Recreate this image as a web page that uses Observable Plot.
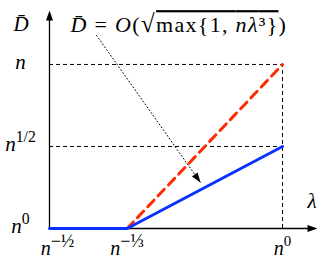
<!DOCTYPE html>
<html><head><meta charset="utf-8">
<script src="https://cdn.jsdelivr.net/npm/d3@7"></script>
<script src="https://cdn.jsdelivr.net/npm/@observablehq/plot@0.6"></script>
<style>
body{margin:0;background:#fff}
svg{font-family:"Liberation Serif",serif}
</style>
</head><body><div id="chart"></div>
<script>
// exponents of n (log_n scale)
const xTicks = [-1/2, -1/3, 0];
const xTickLabels = ["n^\u2212\u00BD", "n^\u2212\u2153", "n^0"];
const yTicks = [0, 1/2, 1];
const yTickLabels = ["n^0", "n^1/2", "n"];
// blue: sqrt(max{1, n λ^3})
const blueX = [-1/2, -1/3, 0];
const blueY = [0, 0, 1/2];
// red dashed: max{1, n λ^3}
const redX = [-1/3, 0];
const redY = [0, 1];
// annotation arrow (start, tip)
const annotX = [-0.399, -0.176];
const annotY = [1.177, 0.28];

const W = 332, H = 260;
const mL = 49, mR = 15, mT = 10, mB = 32;
const xDom = [-0.5, 0.075], yDom = [0, 1.329];
const xs = d3.scaleLinear(xDom, [mL, W - mR]);
const ys = d3.scaleLinear(yDom, [H - mB, mT]);

const tri = {draw(ctx) { ctx.moveTo(0, 0); ctx.lineTo(-3.5, 10); ctx.lineTo(3.5, 10); ctx.closePath(); }};
const ang = Math.atan2(ys(annotY[1]) - ys(annotY[0]), xs(annotX[1]) - xs(annotX[0])) * 180 / Math.PI + 90;

const pts = (X, Y) => X.map((x, i) => ({x, y: Y[i]}));
const xLab = xTicks.map((x, i) => ({x, t: xTickLabels[i]}));

const chart = Plot.plot({
  width: W, height: H,
  marginLeft: mL, marginRight: mR, marginTop: mT, marginBottom: mB,
  x: {domain: xDom, axis: null},
  y: {domain: yDom, axis: null},
  marks: [
    // dashed guides
    Plot.ruleY([yTicks[1], yTicks[2]], {x1: xTicks[0], x2: xTicks[2], stroke: "black", strokeWidth: 1, strokeDasharray: "4,3"}),
    Plot.ruleX([xTicks[2]], {y1: 0, y2: yTicks[2], stroke: "black", strokeWidth: 1, strokeDasharray: "4,3"}),
    // axes
    Plot.ruleY([0], {x1: xDom[0], x2: xDom[1] - 0.01, stroke: "black", strokeWidth: 1.3}),
    Plot.ruleX([xDom[0]], {y1: 0, y2: yDom[1] - 0.03, stroke: "black", strokeWidth: 1.3}),
    Plot.dot([{x: xDom[1], y: 0}], {x: "x", y: "y", symbol: tri, fill: "black", stroke: "none", rotate: 90}),
    Plot.dot([{x: xDom[0], y: yDom[1]}], {x: "x", y: "y", symbol: tri, fill: "black", stroke: "none", rotate: 0}),
    // series
    Plot.line(pts(redX, redY), {x: "x", y: "y", stroke: "#ff2a00", strokeWidth: 3, strokeDasharray: "9,6"}),
    Plot.line(pts(blueX, blueY), {x: "x", y: "y", stroke: "#0a32ff", strokeWidth: 3}),
    // annotation arrow
    Plot.line(pts(annotX, annotY), {x: "x", y: "y", stroke: "black", strokeWidth: 1, strokeDasharray: "1,2.5"}),
    Plot.dot([{x: annotX[1], y: annotY[1]}], {x: "x", y: "y", symbol: tri, fill: "black", stroke: "none", rotate: ang}),
    // tick labels
    Plot.text(xLab.slice(0, 1), {x: "x", y: 0, text: "t", fontSize: 20, dx: 8, dy: 20, textAnchor: "middle", fill: "black"}),
    Plot.text(xLab.slice(1), {x: "x", y: 0, text: "t", fontSize: 20, dy: 20, textAnchor: "middle", fill: "black"}),
    Plot.text(yTicks.map((y, i) => ({y, t: yTickLabels[i]})), {x: xDom[0], y: "y", text: "t", fontSize: 21, dx: -29, dy: -2, textAnchor: "middle", fill: "black"}),
    // axis titles
    Plot.text(["D\u0304"], {frameAnchor: "top-left", text: d => d, fontSize: 21, fontStyle: "italic", dx: -36, dy: 6, textAnchor: "start", fill: "black"}),
    Plot.text(["\u03BB"], {frameAnchor: "bottom-right", text: d => d, fontSize: 21, fontStyle: "italic", dx: -1, dy: -21, textAnchor: "end", fill: "black"}),
    // formula
    Plot.text(["FORMULA"], {frameAnchor: "top-left", text: d => d, fontSize: 22, dx: 21, dy: 6, textAnchor: "start", fill: "black"})
  ]
});
document.getElementById("chart").append(chart);

const svg = d3.select(chart.tagName.toLowerCase() === "svg" ? chart : chart.querySelector("svg"));
svg.selectAll("text").each(function() {
  const t = this.textContent;
  const sel = d3.select(this);
  if (t === "FORMULA") {
    sel.text(null).style("letter-spacing", "1.3px");
    const parts = [["D\u0304", "italic"], [" = ", "normal"], ["O", "italic"], ["(", "normal"], ["\u221A", "normal", 0, "1.15em"],
      ["max{1, ", "normal", 1], ["n\u03BB", "italic", 1], ["\u00B3}", "normal", 1], [")", "normal"]];
    for (const [s, st, ov, fs] of parts) {
      const sp = sel.append("tspan").attr("font-style", st).text(s);
      if (ov) sp.style("text-decoration", "overline");
      if (fs) sp.attr("font-size", fs);
    }
    return;
  }
  const i = t.indexOf("^");
  if (i < 0) { if (t === "n") sel.attr("font-style", "italic"); return; }
  const exp = t.slice(i + 1);
  const frac = /[\u00BD\u2153]/.test(exp);
  sel.text(null);
  sel.append("tspan").attr("font-style", "italic").text(t.slice(0, i));
  sel.append("tspan").attr("font-size", frac ? "0.9em" : "0.75em").attr("dy", frac ? "-0.45em" : "-0.6em").text(exp);
});
</script>
</body></html>
